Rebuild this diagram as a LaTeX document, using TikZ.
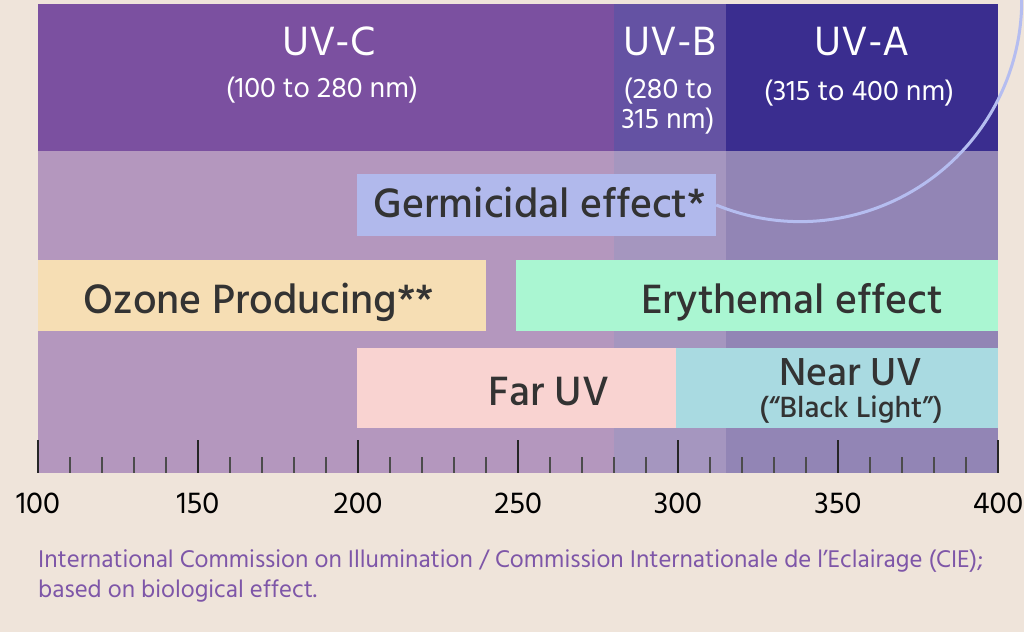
\documentclass[tikz,border=0pt]{standalone}
\usepackage{fontspec}
\setmainfont{Hind Madurai}
\newfontfamily\medfont{Hind Madurai}[UprightFont=* Medium, BoldFont=* Bold]
\definecolor{bg}{HTML}{EFE4DA}
\definecolor{ctop}{HTML}{7B50A0}
\definecolor{btop}{HTML}{6452A3}
\definecolor{atop}{HTML}{3A2D8F}
\definecolor{clow}{HTML}{B497BE}
\definecolor{blow}{HTML}{A596BF}
\definecolor{alow}{HTML}{9285B5}
\definecolor{germc}{HTML}{B1B9EC}
\definecolor{ozonec}{HTML}{F6DEB4}
\definecolor{eryc}{HTML}{AAF6D2}
\definecolor{farc}{HTML}{F9D3D1}
\definecolor{nearc}{HTML}{A9DAE1}
\definecolor{txt}{HTML}{333333}
\definecolor{capc}{HTML}{7E56A8}
\definecolor{curvec}{HTML}{B5BDF0}
\tikzset{
  box/.style={inner sep=0pt, minimum width=#1},
  lbl/.style={anchor=base, inner sep=0pt, text=txt, font=\medfont\fontsize{42}{46}\selectfont},
  toplbl/.style={anchor=base, inner sep=0pt, text=white, font=\fontsize{42}{46}\selectfont},
  subl/.style={anchor=base, inner sep=0pt, text=white, font=\fontsize{29}{32}\selectfont},
  ticklbl/.style={anchor=base, inner sep=0pt, text=black, font=\fontsize{31}{34}\selectfont},
  majortick/.style={line width=2.4pt, draw=black!85},
  minortick/.style={line width=1.2pt, draw=black!70},
  caplbl/.style={anchor=base west, inner sep=0pt, text=capc, font=\fontsize{24.8}{28}\selectfont},
  curveline/.style={draw=curvec, line width=3pt}
}
\begin{document}
\begin{tikzpicture}[x=1pt,y=-1pt]
\useasboundingbox (0,0) rectangle (1024,632);
\fill[bg] (0,0) rectangle (1024,632);
\clip (0,0) rectangle (1024,632);
% top band
\fill[ctop] (38,4) rectangle (614,151);
\fill[btop] (614,4) rectangle (726,151);
\fill[atop] (726,4) rectangle (998,151);
% lower band
\fill[clow] (38,151) rectangle (614,473);
\fill[blow] (614,151) rectangle (726,473);
\fill[alow] (726,151) rectangle (998,473);
% top labels
\node[toplbl] (uvc) at (329,55) {UV-C};
\node[subl] (uvcr) at (322,97) {(100 to 280 nm)};
\node[toplbl] (uvb) at (670,55) {UV-B};
\node[subl] (uvbr1) at (668,98) {(280 to};
\node[subl] (uvbr2) at (668,128) {315 nm)};
\node[toplbl] (uva) at (862,55) {UV-A};
\node[subl] (uvar) at (859,100) {(315 to 400 nm)};
% effect boxes
\node[box=359pt, minimum height=62pt, fill=germc] (germ) at (536.5,205) {};
\node[lbl] (germt) at (540,217) {Germicidal effect*};
\node[box=448pt, minimum height=71pt, fill=ozonec] (ozone) at (262,295.5) {};
\node[lbl] (ozonet) at (259,313) {Ozone Producing**};
\node[box=482pt, minimum height=71pt, fill=eryc] (ery) at (757,295.5) {};
\node[lbl] (eryt) at (792,313) {Erythemal effect};
\node[box=319pt, minimum height=80pt, fill=farc] (far) at (516.5,388) {};
\node[lbl] (fart) at (549,405) {Far UV};
\node[box=322pt, minimum height=80pt, fill=nearc] (near) at (837,388) {};
\node[lbl, font=\medfont\fontsize{40}{44}\selectfont] (neart) at (851,385) {Near UV};
\node[lbl, font=\medfont\fontsize{30}{33}\selectfont] (blackt) at (851,417) {(“Black Light”)};
% curve
\draw[curveline] (germ.east) arc[start angle=112.3, end angle=-12, radius=221.5];
% ticks
\foreach \n in {110,120,130,140,160,170,180,190,210,220,230,240,260,270,280,290,310,320,330,340,360,370,380,390}
  \draw[minortick] ({38+(\n-100)*3.2},457) -- ({38+(\n-100)*3.2},473);
\foreach \n in {100,150,200,250,300,350,400}{
  \draw[majortick] ({38+(\n-100)*3.2},440) -- ({38+(\n-100)*3.2},473);
  \node[ticklbl] (t\n) at ({38+(\n-100)*3.2},513) {\n};
}
% caption
\node[caplbl] (cap1) at (38,567) {International Commission on Illumination / Commission Internationale de l’Eclairage (CIE);};
\node[caplbl] (cap2) at (38,597) {based on biological effect.};
\end{tikzpicture}
\end{document}
